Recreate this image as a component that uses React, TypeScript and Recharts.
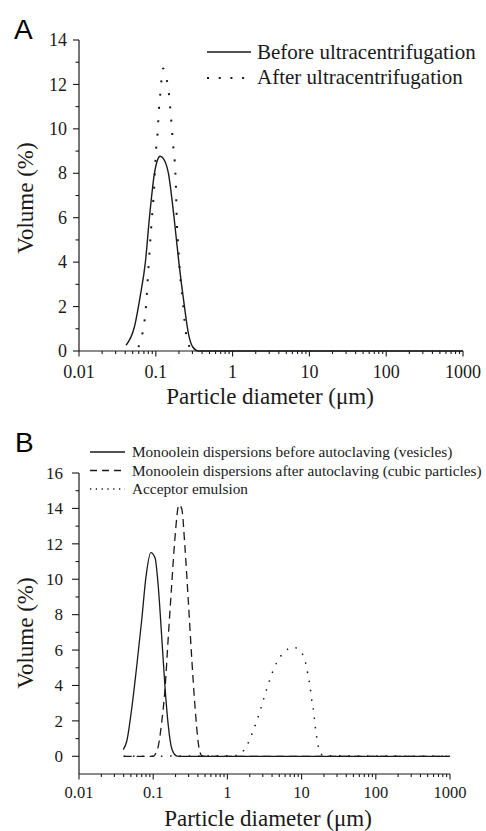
import React from 'react';
import { LineChart, Line, XAxis, YAxis, Legend } from 'recharts';

const SERIF = '"Liberation Serif", "Times New Roman", Times, serif';
const SANS = '"Liberation Sans", Arial, Helvetica, sans-serif';
const INK = '#1a1a1a';
const serifStyle = { fontFamily: SERIF };
const sansStyle = { fontFamily: SANS };

// ---- axis ticks ----
const xMajorTicks = [0.01, 0.1, 1, 10, 100, 1000];
const xMajorLabels = ['0.01', '0.1', '1', '10', '100', '1000'];
const xMinorMultipliers = [2, 3, 4, 5, 6, 7, 8, 9];
const xTicks: number[] = [];
xMajorTicks.forEach((m, i) => {
  xTicks.push(m);
  if (i < xMajorTicks.length - 1) xMinorMultipliers.forEach((k) => xTicks.push(m * k));
});

const yTicksA = [0, 1, 2, 3, 4, 5, 6, 7, 8, 9, 10, 11, 12, 13, 14];
const yTicksB = [0, 1, 2, 3, 4, 5, 6, 7, 8, 9, 10, 11, 12, 13, 14, 15, 16];

const xTitle = 'Particle diameter (μm)';
const yTitle = 'Volume (%)';
const panelLetters = ['A', 'B'];

// ---- Panel A data ----
const seriesNamesA = ['Before ultracentrifugation', 'After ultracentrifugation'];
const beforeDiameter = [0.041, 0.0526, 0.0624, 0.0732, 0.0826, 0.096, 0.105, 0.1138, 0.1256, 0.146, 0.173, 0.1995, 0.234, 0.266, 0.303, 0.359, 1000];
const beforeVolume = [0.26, 1.08, 2.43, 4.0, 6.0, 8.0, 8.59, 8.77, 8.66, 8.0, 6.0, 4.0, 2.1, 0.78, 0.18, 0, 0];
const afterDiameter = [0.0593, 0.0663, 0.0741, 0.0801, 0.0869, 0.0951, 0.101, 0.105, 0.11, 0.114, 0.1245, 0.139, 0.146, 0.157, 0.167, 0.182, 0.188, 0.197, 0.207, 0.225, 0.241, 0.266, 0.295];
const afterVolume = [0.18, 0.71, 1.91, 3.71, 5.51, 7.36, 9.12, 9.72, 10.9, 11.52, 12.72, 12.2, 11.8, 10.6, 9.4, 7.6, 5.81, 4.61, 3.41, 2.21, 1.08, 0.33, 0.0];

// ---- Panel B data ----
const seriesNamesB = [
  'Monoolein dispersions before autoclaving (vesicles)',
  'Monoolein dispersions after autoclaving (cubic particles)',
  'Acceptor emulsion',
];
const vesDiameter = [0.0395, 0.044, 0.051, 0.06, 0.07, 0.08, 0.093, 0.106, 0.117, 0.13, 0.144, 0.16, 0.177, 0.203, 0.22, 1000];
const vesVolume = [0.38, 0.85, 2.6, 5.1, 7.7, 10.15, 11.5, 11.2, 9.6, 6.8, 3.95, 1.7, 0.47, 0.04, 0, 0];
const cubDiameter = [0.04, 0.1, 0.106, 0.117, 0.13, 0.144, 0.16, 0.177, 0.197, 0.222, 0.242, 0.268, 0.297, 0.33, 0.366, 0.405, 0.45, 0.5, 1000];
const cubVolume = [0, 0, 0.1, 0.56, 1.9, 3.76, 6.8, 9.6, 12.4, 14.2, 14.0, 11.8, 8.8, 5.6, 2.8, 0.75, 0.04, 0, 0];
const accDiameter = [0.04, 1.33, 1.69, 1.97, 2.19, 2.43, 2.67, 2.9, 3.14, 3.42, 3.75, 4.16, 4.71, 5.79, 7.5, 9.5, 11.0, 11.8, 12.3, 13.0, 13.4, 13.9, 14.6, 15.0, 15.5, 16.1, 17.0, 19.6, 1000];
const accVolume = [0, 0.04, 0.38, 0.88, 1.37, 1.88, 2.39, 2.86, 3.36, 3.85, 4.36, 4.87, 5.36, 5.86, 6.17, 5.96, 5.45, 4.94, 4.47, 3.98, 3.48, 2.99, 2.48, 1.97, 1.48, 0.98, 0.47, 0.04, 0];

const zip = (xs: number[], ys: number[]) => xs.map((d, i) => ({ d, v: ys[i] }));
const beforeData = zip(beforeDiameter, beforeVolume);
const afterData = zip(afterDiameter, afterVolume);
const vesData = zip(vesDiameter, vesVolume);
const cubData = zip(cubDiameter, cubVolume);
const accData = zip(accDiameter, accVolume);

const majorIndex = (v: number) => xMajorTicks.findIndex((t) => Math.abs(t - v) / t < 1e-6);

const makeXTick = (labelOffset: number, fontSize: number) => (props: any) => {
  const { x, y, payload } = props;
  const idx = majorIndex(payload.value);
  const major = idx >= 0;
  return (
    <g>
      <line x1={x} y1={y} x2={x} y2={y + (major ? 5.5 : 3)} stroke={INK} strokeWidth={1.1} />
      {major && (
        <text x={x} y={y + labelOffset} textAnchor="middle" fontFamily={SERIF} style={serifStyle} fontSize={fontSize} fill={INK}>
          {xMajorLabels[idx]}
        </text>
      )}
    </g>
  );
};

const makeYTick = (majorLen: number, gap: number, fontSize: number) => (props: any) => {
  const { x, y, payload } = props;
  const v = payload.value as number;
  const major = v % 2 === 0;
  return (
    <g>
      <line x1={x - (major ? majorLen : 3.5)} y1={y} x2={x} y2={y} stroke={INK} strokeWidth={1.1} />
      {major && (
        <text x={x - gap} y={y} dy="0.34em" textAnchor="end" fontFamily={SERIF} style={serifStyle} fontSize={fontSize} fill={INK}>
          {String(v)}
        </text>
      )}
    </g>
  );
};

const XTickA = makeXTick(27, 18);
const XTickB = makeXTick(24, 16.5);
const YTickA = makeYTick(6, 12, 18);
const YTickB = makeYTick(7, 16, 17);

const LegendA = () => (
  <svg width={286} height={60} style={{ display: 'block', ...serifStyle }}>
    <line x1={7} y1={16} x2={51} y2={16} stroke={INK} strokeWidth={1.4} />
    <text x={57} y={23} style={serifStyle} fontSize={21} fill={INK}>{seriesNamesA[0]}</text>
    <line x1={7} y1={42} x2={51} y2={42} stroke={INK} strokeWidth={2} strokeDasharray="2 9.7" />
    <text x={57} y={48} style={serifStyle} fontSize={21} fill={INK}>{seriesNamesA[1]}</text>
  </svg>
);

const LegendB = () => (
  <svg width={401} height={60} style={{ display: 'block', ...serifStyle }}>
    <line x1={5} y1={12} x2={40} y2={12} stroke={INK} strokeWidth={1.3} />
    <text x={47} y={17} style={serifStyle} fontSize={15.3} fill={INK}>{seriesNamesB[0]}</text>
    <line x1={5} y1={30.5} x2={40} y2={30.5} stroke={INK} strokeWidth={1.3} strokeDasharray="7 5" />
    <text x={47} y={35.5} style={serifStyle} fontSize={15.3} fill={INK}>{seriesNamesB[1]}</text>
    <line x1={5} y1={49} x2={40} y2={49} stroke={INK} strokeWidth={1.3} strokeDasharray="1.3 4.5" />
    <text x={47} y={54} style={serifStyle} fontSize={15.3} fill={INK}>{seriesNamesB[2]}</text>
  </svg>
);

// Figure titles / panel letters, drawn in a plain page-level SVG overlay
const FigureText = () => (
  <svg width={486} height={831} style={{ position: 'absolute', left: 0, top: 0, pointerEvents: 'none', ...serifStyle }}>
    <text x={14} y={39} style={sansStyle} fontSize={28} fill="#000">{panelLetters[0]}</text>
    <text x={15} y={452} style={sansStyle} fontSize={28} fill="#000">{panelLetters[1]}</text>
    <text x={270} y={404} textAnchor="middle" style={serifStyle} fontSize={23} fill={INK}>{xTitle}</text>
    <text x={268} y={826} textAnchor="middle" style={serifStyle} fontSize={23} fill={INK}>{xTitle}</text>
    <text x={25} y={198} transform="rotate(-90 25 198)" textAnchor="middle" dominantBaseline="central" style={serifStyle} fontSize={23} fill={INK}>{yTitle}</text>
    <text x={25} y={633} transform="rotate(-90 25 633)" textAnchor="middle" dominantBaseline="central" style={serifStyle} fontSize={23} fill={INK}>{yTitle}</text>
  </svg>
);

const axisLineStyle = { stroke: INK, strokeWidth: 1.2 };

export default function App() {
  return (
    <div style={{ position: 'absolute', left: 0, top: 0, width: 486, height: 831, background: '#fff', ...serifStyle }}>
      <div style={{ position: 'absolute', left: 0, top: 0 }}>
        <LineChart width={486} height={420} margin={{ top: 40, right: 23, left: 0, bottom: 0 }}>
          <XAxis
            type="number"
            dataKey="d"
            scale="log"
            domain={[0.01, 1000]}
            allowDataOverflow
            ticks={xTicks}
            interval={0}
            tick={XTickA}
            tickSize={0}
            tickMargin={0}
            tickLine={false}
            axisLine={axisLineStyle}
            height={69}
          />
          <YAxis
            type="number"
            domain={[0, 14]}
            ticks={yTicksA}
            interval={0}
            tick={YTickA}
            tickSize={0}
            tickMargin={0}
            tickLine={false}
            axisLine={axisLineStyle}
            width={79}
          />
          <Legend layout="horizontal" verticalAlign="middle" align="center" content={LegendA} wrapperStyle={{ left: 200, top: 36, width: 286, height: 60 }} />
          <Line data={beforeData} dataKey="v" name={seriesNamesA[0]} type="monotone" stroke={INK} strokeWidth={1.4} dot={false} isAnimationActive={false} />
          <Line data={afterData} dataKey="v" name={seriesNamesA[1]} type="monotone" stroke={INK} strokeWidth={2} strokeDasharray="2 11.3" dot={false} isAnimationActive={false} />
        </LineChart>
      </div>
      <div style={{ position: 'absolute', left: 0, top: 420 }}>
        <LineChart width={486} height={411} margin={{ top: 53, right: 36, left: 0, bottom: 0 }}>
          <XAxis
            type="number"
            dataKey="d"
            scale="log"
            domain={[0.01, 1000]}
            allowDataOverflow
            ticks={xTicks}
            interval={0}
            tick={XTickB}
            tickSize={0}
            tickMargin={0}
            tickLine={false}
            axisLine={axisLineStyle}
            height={57}
          />
          <YAxis
            type="number"
            domain={[-1, 16]}
            ticks={yTicksB}
            interval={0}
            tick={YTickB}
            tickSize={0}
            tickMargin={0}
            tickLine={false}
            axisLine={axisLineStyle}
            width={79}
          />
          <Legend layout="horizontal" verticalAlign="middle" align="center" content={LegendB} wrapperStyle={{ left: 85, top: 20, width: 401, height: 60 }} />
          <Line data={accData} dataKey="v" name={seriesNamesB[2]} type="monotone" stroke={INK} strokeWidth={1.5} strokeDasharray="1.5 7.8" dot={false} isAnimationActive={false} />
          <Line data={cubData} dataKey="v" name={seriesNamesB[1]} type="monotone" stroke={INK} strokeWidth={1.3} strokeDasharray="8 5" dot={false} isAnimationActive={false} />
          <Line data={vesData} dataKey="v" name={seriesNamesB[0]} type="monotone" stroke={INK} strokeWidth={1.3} dot={false} isAnimationActive={false} />
        </LineChart>
      </div>
      <FigureText />
    </div>
  );
}
